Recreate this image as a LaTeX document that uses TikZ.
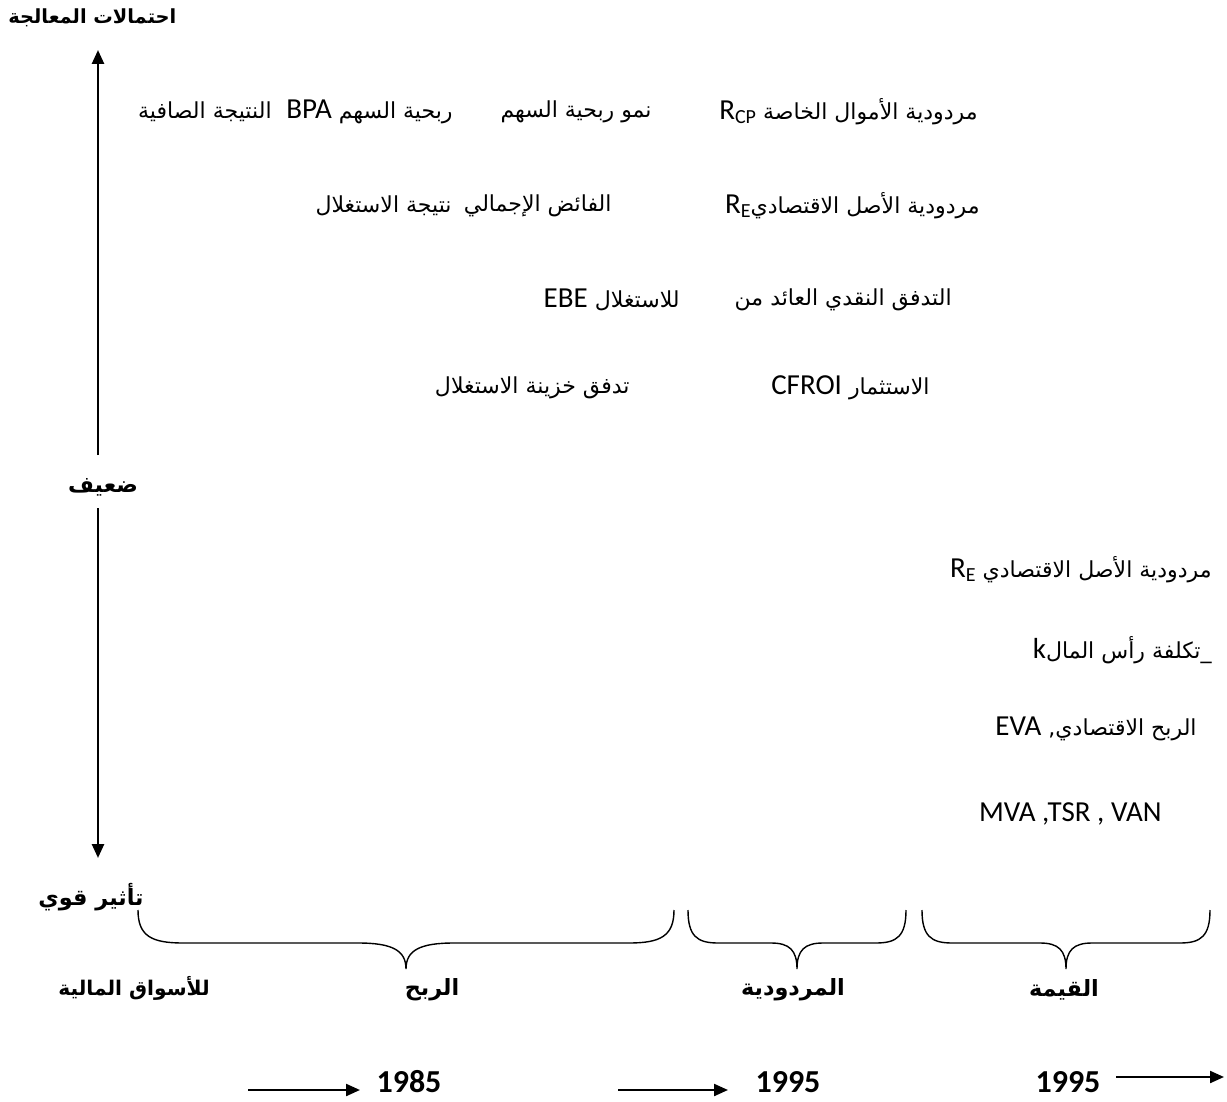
\documentclass[tikz,border=0pt]{standalone}
\usepackage{fontspec}
\setmainfont{Carlito}
\newfontfamily\ar[Script=Arabic,Scale=0.76]{DejaVu Sans}
\TeXXeTstate=1
\usetikzlibrary{arrows.meta}
\newcommand\mybrace[6]{% L C R endradius centerradius name
  \draw[bracestyle] (#1,910) .. controls (#1,936) and ({#1+0.3*#4},943) .. ({#1+#4},943)
    -- ({#2-#5},943) .. controls ({#2-0.3*#5},943) and (#2,950) .. (#2,969)
    .. controls (#2,950) and ({#2+0.3*#5},943) .. ({#2+#5},943)
    -- ({#3-#4},943) .. controls ({#3-0.3*#4},943) and (#3,936) .. (#3,910);
  \coordinate (#6) at (#2,969);}
\begin{document}
\begin{tikzpicture}[x=0.5pt,y=-0.5pt,
  txt/.style={inner sep=0pt,font=\fontsize{14.5}{17}\selectfont},
  btxt/.style={inner sep=0pt,font=\fontsize{14.7}{17}\selectfont\bfseries},
  ytxt/.style={inner sep=0pt,font=\fontsize{16}{17}\selectfont\bfseries},
  axisarrow/.style={line width=1.25pt,-{Triangle[length=7pt,width=6pt]}},
  yeararrow/.style={line width=1.1pt,-{Triangle[length=7pt,width=6pt]}},
  bracestyle/.style={line width=0.7pt}]
\useasboundingbox (0,0) rectangle (1227,1102);

% left axis
\node[btxt,anchor=west] (title) at (8,18) {\resizebox{84pt}{!}{\ar\beginR احتمالات المعالجة\endR}};
\node[btxt] (weak) at (103,487) {\ar\beginR ضعيف\endR};
\node[btxt] (strong) at (91,897) {\ar\beginR تأثير قوي\endR};
\node[btxt,font=\fontsize{13.3}{17}\selectfont\bfseries] (markets) at (134,988) {\ar\beginR للأسواق المالية\endR};
\coordinate (upS) at (98,455);
\coordinate (upT) at (98,50);
\coordinate (dnS) at (98,508);
\coordinate (dnT) at (98,858);
\draw[axisarrow] (upS) -- (upT);
\draw[axisarrow] (dnS) -- (dnT);

% line 1
\node[txt,anchor=east] (l1a) at (978,112) {\ar\beginR مردودية الأموال الخاصة \beginL\rmfamily R\raisebox{-0.25ex}{\fontsize{10}{10}\selectfont CP}\endL\endR};
\node[txt,anchor=east] (l1b) at (652,112) {\ar\beginR نمو ربحية السهم\endR};
\node[txt,anchor=east] (l1c) at (453,112) {\ar\beginR ربحية السهم \beginL\rmfamily BPA\endL\endR};
\node[txt,anchor=east] (l1d) at (272,112) {\ar\beginR النتيجة الصافية\endR};

% line 2
\node[txt,anchor=east] (l2a) at (980,206) {\ar\beginR مردودية الأصل الاقتصادي\beginL\rmfamily R\raisebox{-0.25ex}{\fontsize{10}{10}\selectfont E}\endL\endR};
\node[txt,anchor=east] (l2b) at (612,206) {\ar\beginR الفائض الإجمالي\endR};
\node[txt,anchor=east] (l2c) at (452,206) {\ar\beginR نتيجة الاستغلال\endR};

% line 3
\node[txt,anchor=east] (l3a) at (952,300) {\ar\beginR التدفق النقدي العائد من\endR};
\node[txt,anchor=east] (l3b) at (680,300) {\ar\beginR للاستغلال \beginL\rmfamily EBE\endL\endR};

% line 4
\node[txt,anchor=east] (l4a) at (930,388) {\ar\beginR الاستثمار \beginL\rmfamily CFROI\endL\endR};
\node[txt,anchor=east] (l4b) at (630,388) {\ar\beginR تدفق خزينة الاستغلال\endR};

% right group
\node[txt,anchor=east] (r1) at (1212,570) {\ar\beginR مردودية الأصل الاقتصادي \beginL\rmfamily R\raisebox{-0.25ex}{\fontsize{10}{10}\selectfont E}\endL\endR};
\node[txt,anchor=east] (r2) at (1212,650) {\ar\beginR \_تكلفة رأس المال\beginL\rmfamily k\endL\endR};
\node[txt,anchor=east] (r3) at (1197,729) {\ar\beginR الربح الاقتصادي, \beginL\rmfamily EVA\endL\endR};
\node[txt,anchor=east] (r4) at (1162,814) {MVA ,TSR , VAN};

% braces
\mybrace{138}{406}{674}{45}{48}{tip1}
\mybrace{688}{797}{906}{30}{26}{tip2}
\mybrace{922}{1066}{1210}{30}{26}{tip3}

\node[btxt] (profit) at (432,990) {\ar\beginR الربح\endR};
\node[btxt] (rentab) at (793,990) {\ar\beginR المردودية\endR};
\node[btxt] (value) at (1064,990) {\ar\beginR القيمة\endR};

% years
\node[ytxt] (y1) at (409,1082) {1985};
\node[ytxt] (y2) at (788,1082) {1995};
\node[ytxt] (y3) at (1068,1082) {1995};
\coordinate (a1s) at (248,1090);
\coordinate (a1e) at (360,1090);
\coordinate (a2s) at (618,1090);
\coordinate (a2e) at (728,1090);
\coordinate (a3s) at (1116,1077);
\coordinate (a3e) at (1224,1077);
\draw[yeararrow] (a1s) -- (a1e);
\draw[yeararrow] (a2s) -- (a2e);
\draw[yeararrow] (a3s) -- (a3e);
\end{tikzpicture}
\end{document}
